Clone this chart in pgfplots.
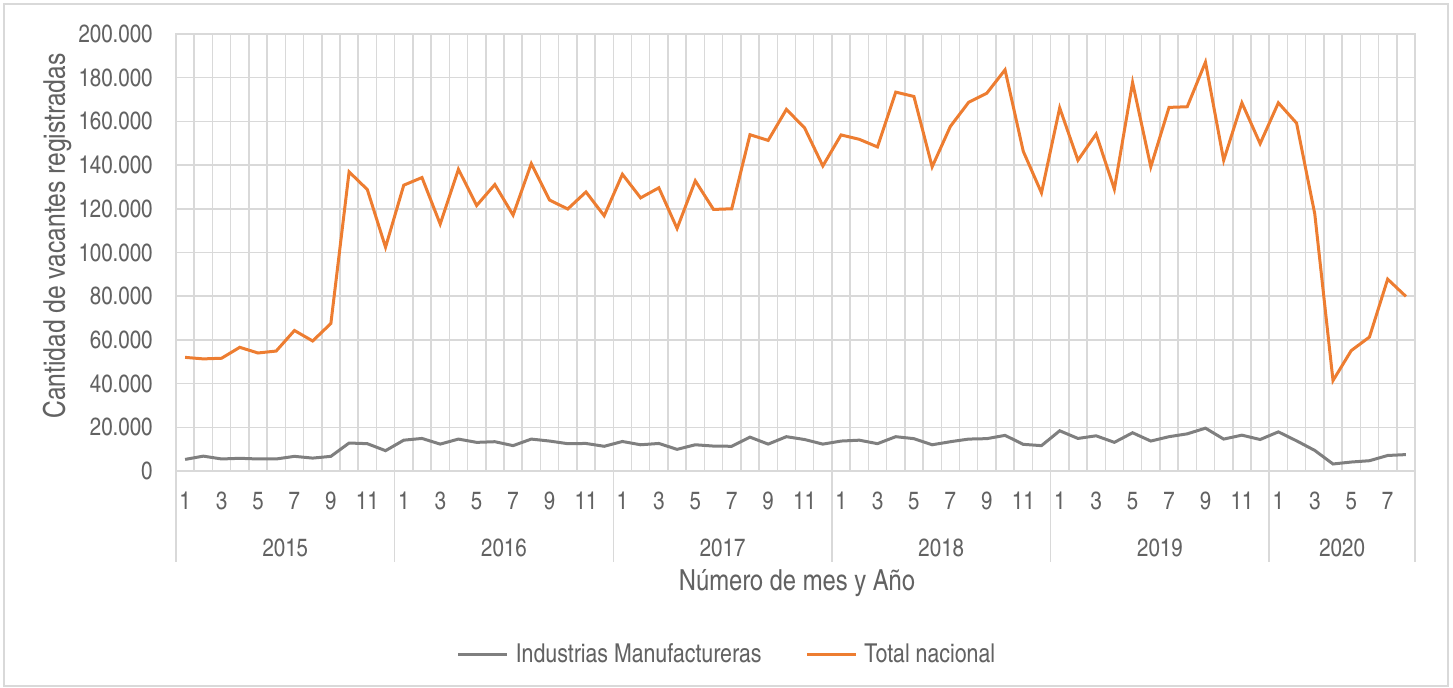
\documentclass[border=0pt]{standalone}
\usepackage{pgfplots}
\pgfplotsset{compat=1.18}
\usepackage{pgfplotstable}
\usepackage{fontspec}
\setmainfont{TeX Gyre Heros Cn}
\definecolor{txt}{HTML}{626262}
\definecolor{gridc}{HTML}{D9D9D9}
\definecolor{ora}{HTML}{ED7D31}
\definecolor{gry}{HTML}{7F7F7F}
\pgfplotstableread{
i gray orange
1 5300 52000
2 6800 51300
3 5500 51600
4 5800 56600
5 5500 54000
6 5500 54900
7 6700 64300
8 5900 59500
9 6700 67500
10 12800 136900
11 12500 128800
12 9300 102400
13 14100 130800
14 14900 134300
15 12300 113000
16 14600 138100
17 13100 121500
18 13400 131100
19 11600 117100
20 14600 140700
21 13700 124000
22 12500 119900
23 12600 127700
24 11300 116800
25 13500 135800
26 12000 125000
27 12600 129600
28 9900 111000
29 12000 132800
30 11400 119700
31 11300 120000
32 15500 153900
33 12300 151300
34 15700 165500
35 14400 157000
36 12300 139600
37 13700 153800
38 14100 151800
39 12500 148300
40 15700 173400
41 14800 171400
42 12000 139200
43 13400 157700
44 14600 168700
45 14800 172900
46 16300 183600
47 12200 146300
48 11600 127300
49 18400 166200
50 14900 142200
51 16100 154200
52 13100 129000
53 17500 177800
54 13700 139200
55 15700 166400
56 17000 166700
57 19600 187100
58 14600 142200
59 16400 168500
60 14400 149800
61 17900 168500
62 13800 159200
63 9400 117600
64 3200 41400
65 4100 55100
66 4700 61300
67 7100 87800
68 7500 79900
}\datatable
\tikzset{yrlab/.style={font=\fontsize{12.5}{14}\selectfont, text=txt, anchor=center}}
\begin{document}
\begin{tikzpicture}
\useasboundingbox (0,0) rectangle (726.5pt,344pt);
\draw[gridc, line width=0.75pt] (2pt,1pt) rectangle (724pt,342pt);
\begin{axis}[
  at={(88pt,108.5pt)}, anchor=south west,
  width=619.5pt, height=218.5pt, scale only axis,
  xmin=0.5, xmax=68.5, ymin=0, ymax=200000,
  clip=false,
  axis line style={gridc, line width=0.75pt},
  xtick={1,3,5,7,9,11,13,15,17,19,21,23,25,27,29,31,33,35,37,39,41,43,45,47,49,51,53,55,57,59,61,63,65,67},
  xticklabels={1,3,5,7,9,11,1,3,5,7,9,11,1,3,5,7,9,11,1,3,5,7,9,11,1,3,5,7,9,11,1,3,5,7},
  minor xtick={0.5,1.5,...,68.5},
  xminorgrids=true, xmajorgrids=false,
  ytick={0,20000,40000,60000,80000,100000,120000,140000,160000,180000,200000},
  yticklabels={0,20.000,40.000,60.000,80.000,100.000,120.000,140.000,160.000,180.000,200.000},
  ymajorgrids=true,
  grid style={gridc, line width=0.75pt},
  minor grid style={gridc, line width=0.75pt},
  major tick length=0pt, minor tick length=0pt,
  scaled y ticks=false,
  tick label style={font=\fontsize{12.5}{14}\selectfont, text=txt},
  yticklabel style={anchor=east, inner sep=0pt, xshift=-11.5pt},
  xticklabel style={anchor=north, inner sep=0pt, yshift=-10.5pt},
  legend columns=2,
  legend style={at={(0.4455,-0.421)}, anchor=center, draw=none, fill=none,
    font=\fontsize{13}{15}\selectfont, text=txt,
    /tikz/every even column/.append style={column sep=20pt}},
  legend image code/.code={\draw[#1] (0pt,0pt) -- (24.5pt,0pt); \path (26pt,0pt);},
]
\addplot[gry, line width=1.5pt] table[x=i, y=gray] {\datatable};
\addlegendentry{Industrias Manufactureras}
\addplot[ora, line width=1.5pt] table[x=i, y=orange] {\datatable};
\addlegendentry{Total nacional}
\pgfplotsinvokeforeach{0.5,12.5,24.5,36.5,48.5,60.5,68.5}{
  \draw[gridc, line width=0.75pt] (axis cs:#1,0) -- ++(0pt,-45.5pt);
}
\node[yrlab] at ([yshift=-38.5pt]axis cs:6.5,0) {2015};
\node[yrlab] at ([yshift=-38.5pt]axis cs:18.5,0) {2016};
\node[yrlab] at ([yshift=-38.5pt]axis cs:30.5,0) {2017};
\node[yrlab] at ([yshift=-38.5pt]axis cs:42.5,0) {2018};
\node[yrlab] at ([yshift=-38.5pt]axis cs:54.5,0) {2019};
\node[yrlab] at ([yshift=-38.5pt]axis cs:64.5,0) {2020};
\end{axis}
\node[rotate=90, font=\fontsize{15}{17}\selectfont, text=txt] at (28.5pt,226pt) {Cantidad de vacantes registradas};
\node[font=\fontsize{14.5}{17}\selectfont, text=txt] at (398.5pt,52.5pt) {Número de mes y Año};
\end{tikzpicture}
\end{document}
